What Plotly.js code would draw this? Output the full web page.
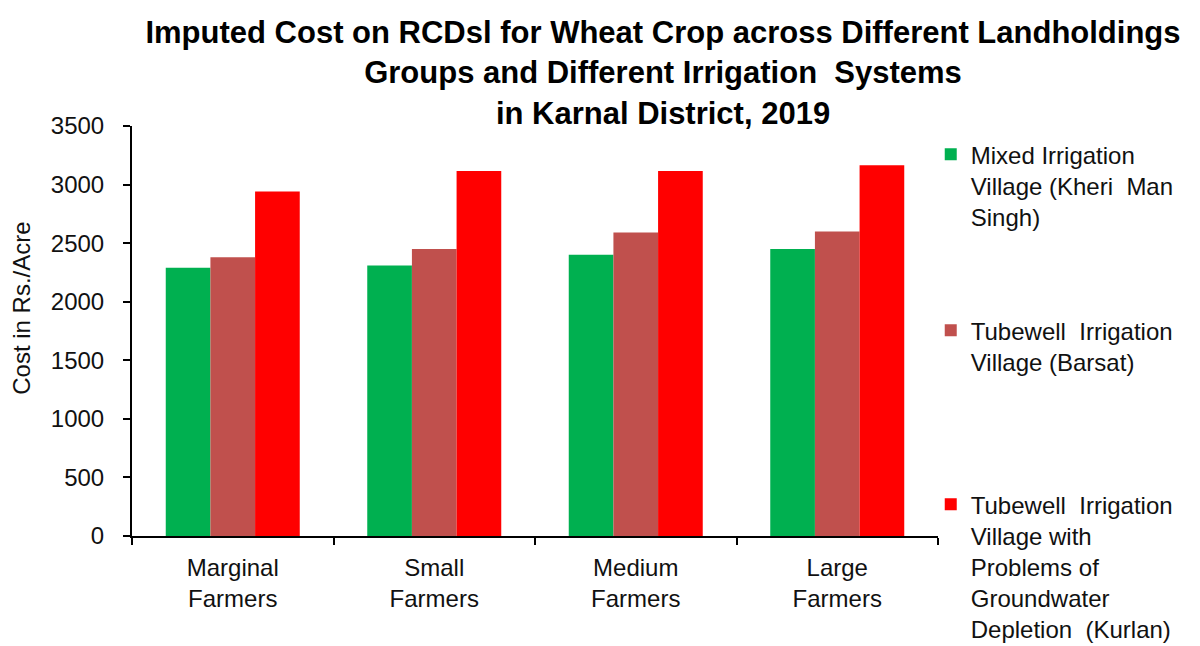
<!DOCTYPE html>
<html>
<head>
<meta charset="utf-8">
<script src="https://cdn.plot.ly/plotly-3.0.1.min.js"></script>
<style>
  html, body { margin: 0; padding: 0; background: #fff; }
  #chart { width: 1200px; height: 646px; }
</style>
</head>
<body>
<div id="chart"></div>
<script>
// Landholding groups (x categories)
const categories = ["Marginal<br>Farmers", "Small<br>Farmers", "Medium<br>Farmers", "Large<br>Farmers"];

// Imputed cost (Rs./Acre) per village type
const mixedVillage = [2290, 2310, 2400, 2450];
const tubewellVillage = [2380, 2450, 2590, 2600];
const depletionVillage = [2940, 3115, 3115, 3165];

const seriesNames = [
  "Mixed Irrigation<br>Village (Kheri  Man<br>Singh)",
  "Tubewell  Irrigation<br>Village (Barsat)",
  "Tubewell  Irrigation<br>Village with<br>Problems of<br>Groundwater<br>Depletion  (Kurlan)"
];
const seriesColors = ["#00B050", "#C0504D", "#FF0000"];

const yTicks = [0, 500, 1000, 1500, 2000, 2500, 3000, 3500];

const FONT = "Liberation Sans, Arial, sans-serif";

const traces = [mixedVillage, tubewellVillage, depletionVillage].map((vals, i) => ({
  type: "bar",
  x: categories,
  y: vals,
  name: seriesNames[i],
  marker: { color: seriesColors[i], line: { width: 0 } },
  legend: i === 0 ? "legend" : "legend" + (i + 1),
  hoverinfo: "skip"
}));

const legendBase = {
  x: 0.991,
  xanchor: "left",
  yanchor: "top",
  valign: "top",
  bgcolor: "rgba(0,0,0,0)",
  borderwidth: 0,
  font: { family: FONT, size: 24, color: "#111" }
};

const layout = {
  width: 1200,
  height: 646,
  margin: { l: 132, r: 262, t: 126, b: 110, autoexpand: false },
  paper_bgcolor: "#fff",
  plot_bgcolor: "#fff",
  font: { family: FONT, size: 24, color: "#111" },
  title: {
    text: "Imputed Cost on RCDsl for Wheat Crop across Different Landholdings<br>Groups and Different Irrigation  Systems<br>in Karnal District, 2019",
    font: { family: "Liberation Sans Narrow, Arial Narrow, Liberation Sans, sans-serif", size: 31, color: "#000", weight: "bold" },
    x: 0.5525,
    xref: "container",
    xanchor: "center",
    y: 0.9334,
    yref: "container",
    yanchor: "middle"
  },
  barmode: "group",
  bargap: 0.335,
  bargroupgap: 0,
  showlegend: true,
  legend: Object.assign({}, legendBase, { y: 0.985 }),
  legend2: Object.assign({}, legendBase, { y: 0.556 }),
  legend3: Object.assign({}, legendBase, { y: 0.1316 }),
  xaxis: {
    type: "category",
    automargin: false,
    showline: true,
    linecolor: "#000",
    linewidth: 2,
    ticks: "outside",
    tickson: "boundaries",
    ticklen: 7,
    tickwidth: 2,
    tickcolor: "#000",
    showgrid: false,
    zeroline: false,
    tickfont: { family: FONT, size: 24, color: "#111" },
    ticklabelstandoff: 9
  },
  yaxis: {
    range: [0, 3500],
    automargin: false,
    tickvals: yTicks,
    ticktext: yTicks.map(String),
    showline: true,
    linecolor: "#000",
    linewidth: 2,
    ticks: "outside",
    ticklen: 7,
    tickwidth: 2,
    tickcolor: "#000",
    showgrid: false,
    zeroline: false,
    tickfont: { family: FONT, size: 24, color: "#111" },
    ticklabelstandoff: 14
  },
  annotations: [{
    text: "Cost in Rs./Acre",
    textangle: -90,
    xref: "paper",
    yref: "paper",
    x: -0.138,
    y: (536 - 308) / 410,
    xanchor: "center",
    yanchor: "middle",
    showarrow: false,
    font: { family: FONT, size: 24, color: "#111" }
  }]
};

Plotly.newPlot("chart", traces, layout, { displayModeBar: false, staticPlot: true });
</script>
</body>
</html>
